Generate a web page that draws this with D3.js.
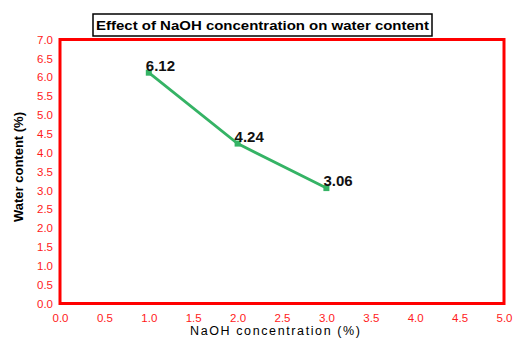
<!DOCTYPE html>
<html><head><meta charset="utf-8">
<script src="https://cdn.jsdelivr.net/npm/d3@7"></script>
<style>body{margin:0;background:#fff}svg{display:block}text{font-family:"Liberation Sans",Arial,sans-serif}</style>
</head><body><svg id="c" width="531" height="346"></svg>
<script>
const concentrations = [1, 2, 3];
const waterContent = [6.12, 4.24, 3.06];
const pointLabels = ["6.12", "4.24", "3.06"];
const xTicks = [0, 0.5, 1, 1.5, 2, 2.5, 3, 3.5, 4, 4.5, 5];
const yTicks = [0, 0.5, 1, 1.5, 2, 2.5, 3, 3.5, 4, 4.5, 5, 5.5, 6, 6.5, 7];
const title = "Effect of NaOH concentration on water content";
const xTitle = "NaOH concentration (%)";
const yTitle = "Water content (%)";

const svg = d3.select("#c");
const L = 60, R = 504, T = 39.5, B = 303.5;
const x = d3.scaleLinear().domain([0, 5]).range([L, R]);
const y = d3.scaleLinear().domain([0, 7]).range([B, T]);

// axes (labels only)
const xAxis = svg.append("g").attr("transform", `translate(0,${B})`)
  .call(d3.axisBottom(x).tickValues(xTicks).tickFormat(d3.format(".1f")).tickSize(0).tickPadding(10));
const yAxis = svg.append("g").attr("transform", `translate(${L},0)`)
  .call(d3.axisLeft(y).tickValues(yTicks).tickFormat(d3.format(".1f")).tickSize(0).tickPadding(7));
[xAxis, yAxis].forEach(a => {
  a.select(".domain").remove();
  a.selectAll("text").attr("fill", "#ff1a1a").style("font-size", "11.5px").style("font-family", '"Liberation Sans",Arial,sans-serif');
});

// plot frame
svg.append("rect").attr("x", L).attr("y", T).attr("width", R - L).attr("height", B - T)
  .attr("fill", "none").attr("stroke", "#ff0000").attr("stroke-width", 3);

// line
const line = d3.line().x((d, i) => x(concentrations[i])).y(d => y(d));
svg.append("path").datum(waterContent).attr("d", line)
  .attr("fill", "none").attr("stroke", "#35b365").attr("stroke-width", 2.8);
svg.selectAll(".pt").data(waterContent).join("rect").attr("class", "pt")
  .attr("x", (d, i) => x(concentrations[i]) - 3).attr("y", d => y(d) - 3)
  .attr("width", 6).attr("height", 6).attr("fill", "#35b365");
svg.selectAll(".lbl").data(waterContent).join("text").attr("class", "lbl")
  .attr("x", (d, i) => x(concentrations[i]) - 3).attr("y", d => y(d) - 2)
  .attr("font-size", 15).attr("font-weight", "bold").attr("fill", "#111").text((d, i) => pointLabels[i]);

// title
svg.append("rect").attr("x", 93).attr("y", 14).attr("width", 339).attr("height", 22)
  .attr("fill", "#fff").attr("stroke", "#000").attr("stroke-width", 1.5);
svg.append("text").attr("x", 262.5).attr("y", 30).attr("text-anchor", "middle")
  .attr("font-size", 13).attr("font-weight", "bold").attr("textLength", 333).attr("lengthAdjust", "spacingAndGlyphs").text(title);

// axis titles
svg.append("text").attr("x", 275).attr("y", 335).attr("text-anchor", "middle")
  .attr("font-size", 12.5).attr("textLength", 170).attr("lengthAdjust", "spacing").text(xTitle);
svg.append("text").attr("transform", "translate(23,167) rotate(-90)").attr("text-anchor", "middle")
  .attr("font-size", 12.5).attr("font-weight", "bold").attr("textLength", 110).attr("lengthAdjust", "spacingAndGlyphs").text(yTitle);
</script></body></html>
